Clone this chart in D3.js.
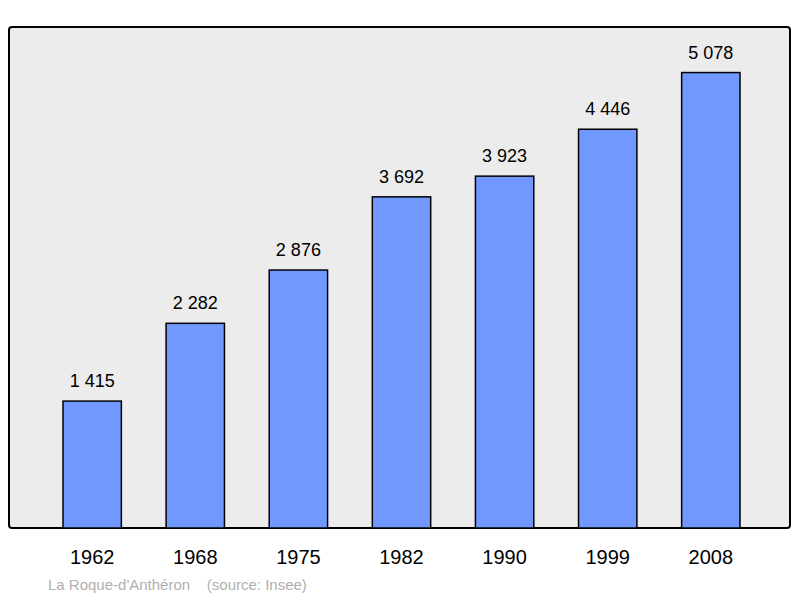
<!DOCTYPE html>
<html>
<head>
<meta charset="utf-8">
<script src="https://cdn.jsdelivr.net/npm/d3@7"></script>
<style>
body { margin: 0; background: #fff; }
text { font-family: "Liberation Sans", Arial, sans-serif; }
</style>
</head>
<body>
<div id="chart"></div>
<script>
const years = ['1962', '1968', '1975', '1982', '1990', '1999', '2008'];
const population = [1415, 2282, 2876, 3692, 3923, 4446, 5078];
const valueLabels = ['1 415', '2 282', '2 876', '3 692', '3 923', '4 446', '5 078'];

const width = 800, height = 598;
const plotTop = 27, plotBottom = 528, plotLeft = 9, plotRight = 790;

const svg = d3.select('#chart').append('svg')
	.attr('width', width)
	.attr('height', height);

svg.append('rect')
	.attr('x', plotLeft).attr('y', plotTop)
	.attr('width', plotRight - plotLeft).attr('height', plotBottom - plotTop)
	.attr('rx', 3)
	.attr('fill', '#ececec')
	.attr('stroke', '#000')
	.attr('stroke-width', 2);

const x = d3.scaleBand()
	.domain(years)
	.range([18.25, 784.75])
	.padding(0.434);

const y = d3.scaleLinear()
	.domain([0, d3.max(population) * 1.1])
	.range([plotBottom, plotTop]);

const data = years.map((yr, i) => ({ yr, v: population[i], label: valueLabels[i] }));

svg.selectAll('rect.bar')
	.data(data)
	.enter().append('rect')
	.attr('class', 'bar')
	.attr('x', d => x(d.yr))
	.attr('y', d => y(d.v))
	.attr('width', x.bandwidth())
	.attr('height', d => plotBottom - y(d.v))
	.attr('fill', '#7098ff')
	.attr('stroke', '#000')
	.attr('stroke-width', 1.5);

svg.selectAll('text.val')
	.data(data)
	.enter().append('text')
	.attr('class', 'val')
	.attr('x', d => x(d.yr) + x.bandwidth() / 2)
	.attr('y', d => y(d.v) - 14)
	.attr('text-anchor', 'middle')
	.attr('font-size', 18)
	.text(d => d.label);

svg.selectAll('text.year')
	.data(data)
	.enter().append('text')
	.attr('class', 'year')
	.attr('x', d => x(d.yr) + x.bandwidth() / 2)
	.attr('y', 564)
	.attr('text-anchor', 'middle')
	.attr('font-size', 20)
	.text(d => d.yr);

svg.append('text')
	.attr('x', 48).attr('y', 590)
	.attr('font-size', 15)
	.attr('fill', '#b0b0b0')
	.style('white-space', 'pre')
	.text("La Roque-d'Anthéron    (source: Insee)");
</script>
</body>
</html>
